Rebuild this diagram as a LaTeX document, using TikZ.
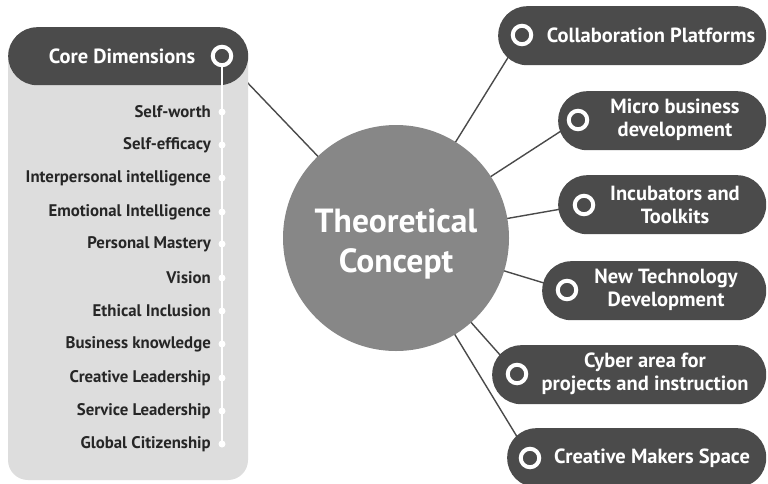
\documentclass[tikz,border=0pt]{standalone}
\usepackage{fontspec}
\setmainfont{PT Sans}
\usetikzlibrary{backgrounds}

\definecolor{pilldark}{HTML}{4B4B4B}
\definecolor{hubgray}{HTML}{878787}
\definecolor{panelgray}{HTML}{DDDDDD}
\definecolor{itemtext}{HTML}{262626}
\definecolor{linkgray}{HTML}{4A4A4A}

\tikzset{
  pill/.style={fill=pilldark, rounded corners=29pt, inner sep=0pt, minimum height=59pt, anchor=north west},
  ring/.style={circle, draw=white, fill=pilldark, line width=4pt, minimum size=18.5pt, inner sep=0pt},
  pilltext/.style={text=white, font=\bfseries\fontsize{20.5}{23.5}\selectfont, align=center, inner sep=0pt},
  itemlabel/.style={text=itemtext, font=\bfseries\fontsize{16.8}{19}\selectfont, anchor=east, inner sep=0pt},
  itemdot/.style={circle, fill=white, minimum size=7pt, inner sep=0pt},
  link/.style={draw=linkgray, line width=1.4pt},
}

\begin{document}
\begin{tikzpicture}[x=1pt, y=-1pt]
\useasboundingbox (0,0) rectangle (768,483);
\begin{scope}[on background layer]
  \fill[white] (0,0) rectangle (768,483);
\end{scope}

% left panel with the core dimensions
\fill[panelgray, rounded corners=20pt] (8,34) rectangle (248,480);
\node[pill, minimum width=240pt, minimum height=58pt] (head) at (8,27) {};
\node[pilltext] (headtext) at (122,56) {Core Dimensions};
\node[ring] (hr) at (222,56) {};

\foreach \name/\txt/\y in {d1/Self-worth/112, d2/Self-efficacy/145,
  d3/Interpersonal intelligence/178, d4/Emotional Intelligence/212,
  d5/Personal Mastery/244, d6/Vision/278, d7/Ethical Inclusion/311,
  d8/Business knowledge/344, d9/Creative Leadership/378,
  d10/Service Leadership/411, d11/Global Citizenship/444} {
  \node[itemlabel] (\name t) at (211,\y) {\txt};
  \node[itemdot] (\name) at (222,\y) {};
}
\draw[white, line width=1.8pt] (hr.south) -- (d11.center);

% central hub
\node[circle, fill=hubgray, minimum size=226pt, inner sep=0pt] (hub) at (396,238) {};
\node[text=white, font=\bfseries\fontsize{33.5}{40}\selectfont, align=center,
  inner sep=0pt] (hubtext) at (396,244) {Theoretical\\Concept};

% right-hand branches
\node[pill, minimum width=268pt] (p1) at (498,6) {};
\node[ring] (r1) at (522,35) {};
\node[pilltext] (t1) at (651,35) {Collaboration Platforms};

\node[pill, minimum width=208pt] (p2) at (558,91) {};
\node[ring] (r2) at (578,120) {};
\node[pilltext] (t2) at (675,120) {Micro business\\development};

\node[pill, minimum width=208pt] (p3) at (558,175) {};
\node[ring] (r3) at (584,205) {};
\node[pilltext] (t3) at (675,205) {Incubators and\\Toolkits};

\node[pill, minimum width=224pt] (p4) at (542,261) {};
\node[ring] (r4) at (567,290) {};
\node[pilltext] (t4) at (666,290) {New Technology\\Development};

\node[pill, minimum width=274pt] (p5) at (492,345) {};
\node[ring] (r5) at (517,374) {};
\node[pilltext] (t5) at (645,374) {Cyber area for\\projects and instruction};

\node[pill, minimum width=259pt] (p6) at (507,428) {};
\node[ring] (r6) at (530,458) {};
\node[pilltext] (t6) at (652,458) {Creative Makers Space};

% connectors from the hub
\begin{scope}[on background layer]
  \foreach \r in {hr, r1, r2, r3, r4, r5, r6}
    \draw[link] (hub.center) -- (\r.center);
\end{scope}
\end{tikzpicture}
\end{document}
